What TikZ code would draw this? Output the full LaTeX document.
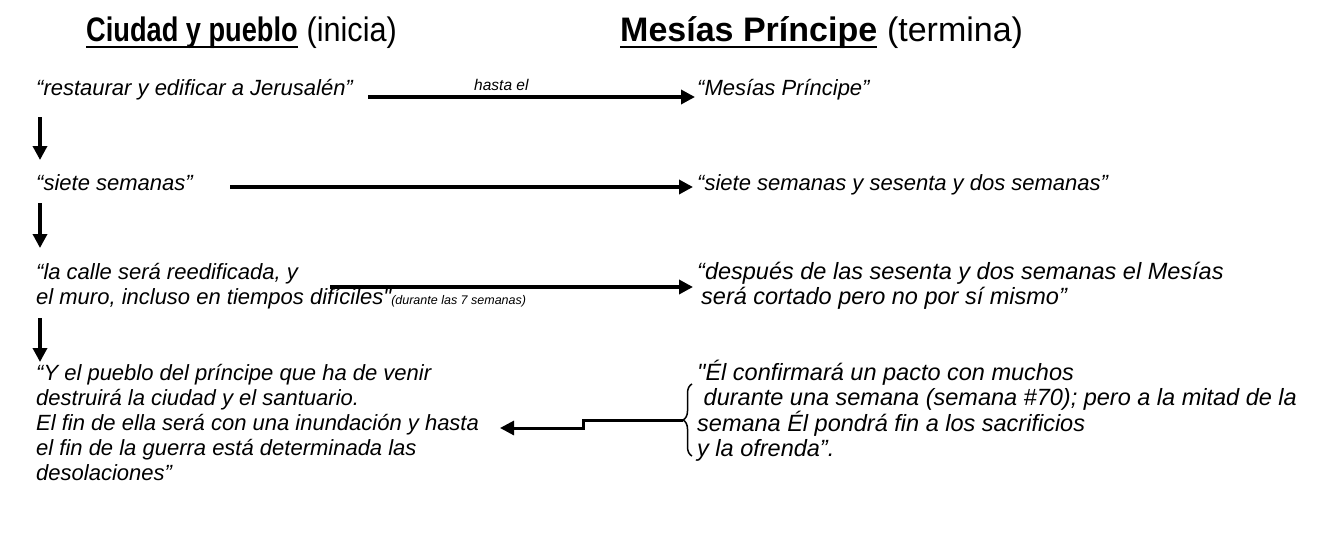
\documentclass[tikz,border=0pt]{standalone}
\usepackage{fontspec}
\usepackage{graphicx}
\setmainfont{Liberation Sans}[Ligatures=TeXOff]
\usetikzlibrary{arrows.meta,decorations.pathreplacing}
\newcommand\tstrut{\rule{0pt}{21pt}}
\begin{document}
\begin{tikzpicture}[x=1pt,y=-1pt,
  txt/.style={anchor=north west,inner sep=0pt,align=left,font=\fontsize{22}{25}\selectfont\itshape},
  txtb/.style={txt,font=\fontsize{23.5}{25}\selectfont\itshape},
  small/.style={anchor=base west,inner sep=0pt,font=\fontsize{15.5}{17}\selectfont\itshape},
  headb/.style={anchor=base west,inner sep=0pt,font=\fontsize{34}{38}\selectfont\bfseries},
  headr/.style={anchor=base west,inner sep=0pt,font=\fontsize{34}{38}\selectfont},
  arr/.style={line width=3.4pt,-{Triangle[length=14pt,width=14pt]}},
  uline/.style={line width=2.8pt},
  bracestyle/.style={line width=1.5pt,decorate,decoration={brace,amplitude=9pt}}]
\fill[white] (0,0) rectangle (1320,535);
\useasboundingbox (0,0) rectangle (1320,535);

% headings
\node[headb] (h1) at (86,42) {\scalebox{0.8}[1]{Ciudad y pueblo}};
\node[headr] (h1r) at (h1.base east) {\scalebox{0.9}[1]{\ (inicia)}};
\draw[uline] ([yshift=-5pt]h1.base west) -- ([yshift=-5pt]h1.base east);
\node[headb] (h2) at (620,42) {Mesías Príncipe};
\node[headr] (h2r) at (h2.base east) {\ (termina)};
\draw[uline] ([yshift=-5pt]h2.base west) -- ([yshift=-5pt]h2.base east);

% row 1
\node[txt] (a1) at (36,74) {\tstrut“restaurar y edificar a Jerusalén”};
\node[txt] (b1) at (697,74) {\tstrut“Mesías Príncipe”};
\node[small] (hasta) at (474,91) {hasta el};
\coordinate (a1e) at (368,97);
\coordinate (b1w) at (695,97);
\draw[arr] (a1e) -- (b1w);

% row 2
\node[txt] (a2) at (36,169) {\tstrut“siete semanas”};
\node[txt] (b2) at (697,169) {\tstrut“siete semanas y sesenta y dos semanas”};
\coordinate (a2e) at (230,187);
\coordinate (b2w) at (693,187);
\draw[arr] (a2e) -- (b2w);

% row 3
\node[txt] (a3) at (36,258) {\tstrut“la calle será reedificada, y\\
el muro, incluso en tiempos difíciles"{\fontsize{12.5}{15}\selectfont(durante las 7 semanas)}};
\node[txtb] (b3) at (697,258) {\tstrut“después de las sesenta y dos semanas el Mesías\\
\hspace{4pt}será cortado pero no por sí mismo”};
\coordinate (a3e) at (330,287);
\coordinate (b3w) at (693,287);
\draw[arr] (a3e) -- (b3w);

% row 4
\node[txt] (a4) at (36,359) {\tstrut“Y el pueblo del príncipe que ha de venir\\
destruirá la ciudad y el santuario.\\
El fin de ella será con una inundación y hasta\\
el fin de la guerra está determinada las\\
desolaciones”};
\node[txtb] (b4) at (697,359) {\tstrut"Él confirmará un pacto con muchos\\
\ durante una semana (semana \#70); pero a la mitad de la\\
semana Él pondrá fin a los sacrificios\\
y la ofrenda”.};

% vertical arrows
\coordinate (d1s) at (40,117); \coordinate (d1e) at (40,160);
\coordinate (d2s) at (40,203); \coordinate (d2e) at (40,248);
\coordinate (d3s) at (40,318); \coordinate (d3e) at (40,362);
\draw[arr] (d1s) -- (d1e);
\draw[arr] (d2s) -- (d2e);
\draw[arr] (d3s) -- (d3e);

% brace and stepped arrow
\coordinate (brb) at (692,456);
\coordinate (brt) at (692,384);
\draw[bracestyle] (brb) -- (brt);
\coordinate (brtip) at (683,420);
\coordinate (stp) at (583,420);
\coordinate (stq) at (583,428);
\coordinate (a4t) at (500,428);
\draw[arr,line width=3pt] (brtip) -- (stp) -- (stq) -- (a4t);
\end{tikzpicture}
\end{document}
